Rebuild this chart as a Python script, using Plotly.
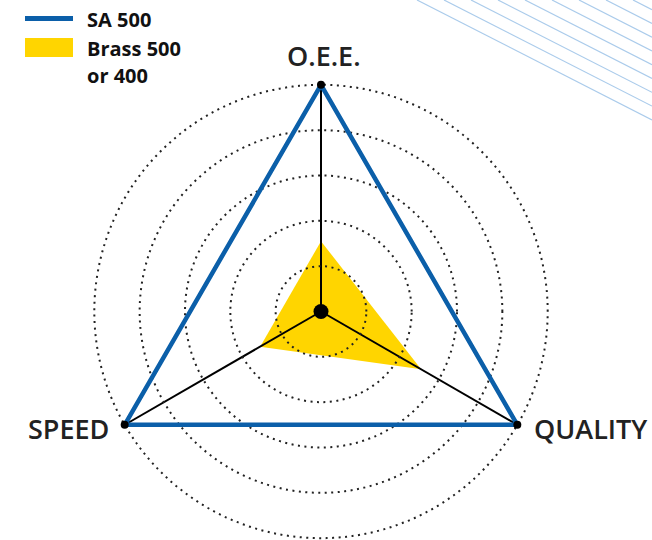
import math
import plotly.graph_objects as go

# Radar axes (clockwise from the top) and series values on a 0-100 scale
axes = ["O.E.E.", "QUALITY", "SPEED"]
sa500 = [100, 100, 100]
brass = [31, 51, 31]
ring_ticks = [20, 40, 60, 80, 100]

legend_lines = ["SA 500", "Brass 500", "or 400"]

BLUE = "#0b5fa9"
YELLOW = "#ffd500"
STRIPE = "#aacbeb"
TEXT = "#222222"

W, H = 652, 540


def px(x):
    return x / W


def py(y):
    return 1 - y / H


def closed(vals):
    return list(vals) + [vals[0]]


# Polar geometry in pixels; the radial range runs a little past 100 so the
# outermost dotted ring is not dropped as an end tick.
R_MAX = 100.8
CX, CY, RAD = 321.0, 311.5, 228.5
dom = dict(x=[px(CX - RAD), px(CX + RAD)], y=[py(CY + RAD), py(CY - RAD)])
r100 = RAD * 100 / R_MAX

fig = go.Figure()

# Bottom polar: the filled Brass area only
fig.add_trace(go.Scatterpolar(
    r=closed(brass), theta=closed(axes), subplot="polar",
    mode="lines", fill="toself", fillcolor=YELLOW,
    line=dict(color=YELLOW, width=0), name="Brass 500 or 400",
    showlegend=False, hoverinfo="skip",
))

# Top polar: grid, SA 500 outline and the vertex/centre dots
fig.add_trace(go.Scatterpolar(
    r=closed(sa500), theta=closed(axes), subplot="polar2",
    mode="lines", line=dict(color=BLUE, width=4.5),
    name="SA 500", showlegend=False, cliponaxis=False,
))
fig.add_trace(go.Scatterpolar(
    r=sa500, theta=axes, subplot="polar2", mode="markers",
    marker=dict(color="black", size=8), showlegend=False, cliponaxis=False,
))
fig.add_trace(go.Scatterpolar(
    r=[0], theta=axes[:1], subplot="polar2", mode="markers",
    marker=dict(color="black", size=15), showlegend=False, cliponaxis=False,
))

angular_common = dict(
    type="category", categoryorder="array", categoryarray=axes,
    direction="clockwise", rotation=90, showline=False, ticks="",
    showticklabels=False,
)
radial_common = dict(range=[0, R_MAX], showline=False, ticks="",
                     showticklabels=False)

fig.update_layout(
    width=W, height=H,
    margin=dict(l=0, r=0, t=0, b=0),
    paper_bgcolor="white",
    showlegend=False,
    polar=dict(
        domain=dom, bgcolor="rgba(0,0,0,0)",
        angularaxis=dict(**angular_common, showgrid=False),
        radialaxis=dict(**radial_common, showgrid=False),
    ),
    polar2=dict(
        domain=dom, bgcolor="rgba(0,0,0,0)",
        angularaxis=dict(**angular_common, showgrid=True, gridcolor="black",
                         gridwidth=1.5),
        radialaxis=dict(**radial_common, showgrid=True, tickvals=ring_ticks,
                        gridcolor="#222222", gridwidth=2,
                        griddash="2px,4.5px"),
    ),
)

# Axis names placed beside each spoke tip
label_font = dict(family="Open Sans", size=27, color=TEXT, weight=600)
for i, name in enumerate(axes):
    ang = math.radians(90 - 120 * i)
    vx = CX + r100 * math.cos(ang)
    vy = CY - r100 * math.sin(ang)
    if i == 0:
        pos = dict(x=px(vx + 3), y=py(vy - 29), xanchor="center")
    elif math.cos(ang) > 0:
        pos = dict(x=px(vx + 15), y=py(vy + 4), xanchor="left")
    else:
        pos = dict(x=px(vx - 14), y=py(vy + 4), xanchor="right")
    fig.add_annotation(**pos, xref="paper", yref="paper", text=name,
                       showarrow=False, yanchor="middle", font=label_font)

# Decorative diagonal stripes in the top-right corner
for x0 in range(417, 652, 27):
    y1 = (652 - x0) * 0.51
    fig.add_shape(type="line", xref="paper", yref="paper",
                  x0=px(x0), y0=py(0), x1=px(652), y1=py(y1),
                  line=dict(color=STRIPE, width=1.2), layer="below")

# Legend swatches and labels
fig.add_shape(type="line", xref="paper", yref="paper",
              x0=px(25), x1=px(73), y0=py(18.5), y1=py(18.5),
              line=dict(color=BLUE, width=5))
fig.add_shape(type="rect", xref="paper", yref="paper",
              x0=px(25), x1=px(73), y0=py(57), y1=py(38),
              fillcolor=YELLOW, line=dict(width=0))
legend_font = dict(family="Open Sans", size=20, color="#111111", weight=700)
for text, ypix in zip(legend_lines, [19, 48.5, 76]):
    fig.add_annotation(x=px(85), y=py(ypix), xref="paper", yref="paper",
                       text=text, showarrow=False, xanchor="left",
                       yanchor="middle", font=legend_font)

fig.write_html("out.html")
